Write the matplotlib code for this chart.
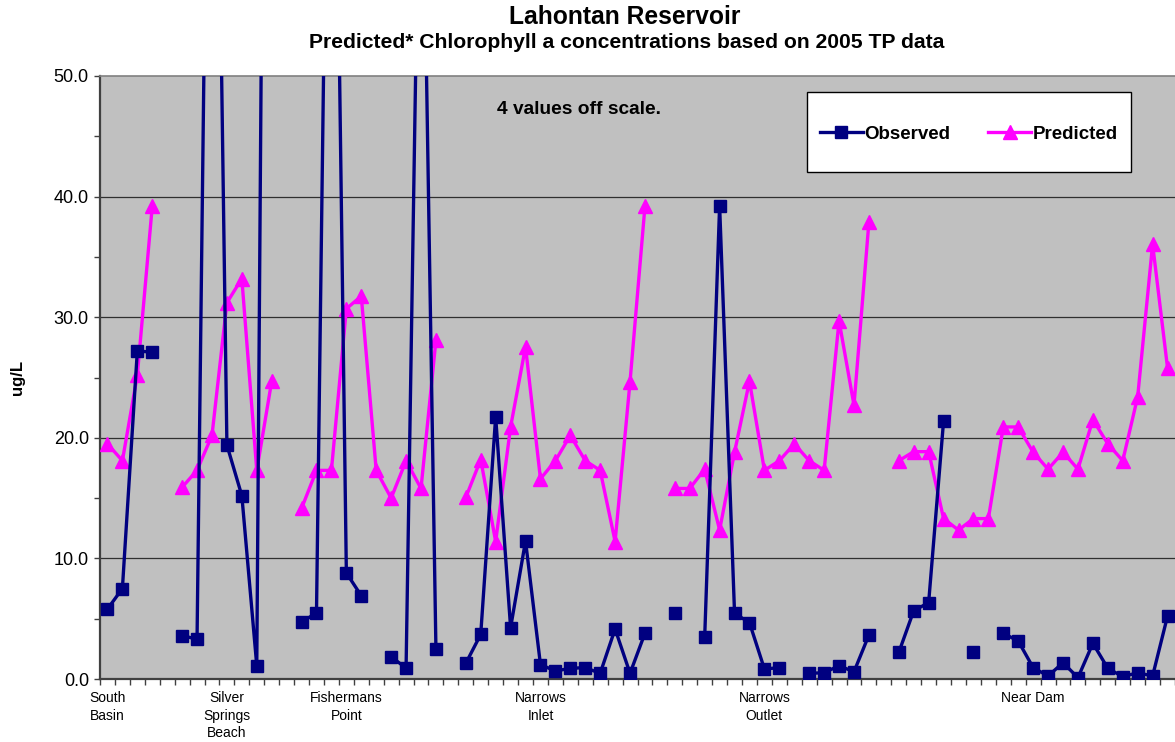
import numpy as np
import matplotlib
matplotlib.use("Agg")
import matplotlib.pyplot as plt
from matplotlib.patches import Rectangle
from matplotlib.lines import Line2D

plt.rcParams['font.family'] = ['Liberation Sans', 'DejaVu Sans']

nan = np.nan
observed = [5.8, 7.5, 27.2, 27.1, nan, 3.6, 3.3, 106, 19.4, 15.2, 1.1, 170, nan,
            4.7, 5.5, 100, 8.8, 6.9, nan, 1.85, 0.9, 78, 2.45, nan,
            1.3, 3.7, 21.75, 4.25, 11.45, 1.2, 0.66, 0.89, 0.94, 0.47, 4.15, 0.47, 3.8, nan,
            5.45, nan, 3.46, 39.25, 5.45, 4.67, 0.83, 0.94, nan, 0.47, 0.52, 1.1, 0.6, 3.65, nan,
            2.2, 5.66, 6.33, 21.4, nan, 2.26, nan, 3.79, 3.15, 0.94, 0.25, 1.35, 0.11, 2.96,
            0.89, 0.19, 0.52, 0.25, 5.22]
predicted = [19.5, 18.1, 25.2, 39.2, nan, 15.9, 17.3, 20.2, 31.2, 33.2, 17.3, 24.7, nan,
             14.15, 17.3, 17.3, 30.7, 31.75, 17.3, 15.0, 18.1, 15.8, 28.1, nan,
             15.05, 18.2, 11.4, 20.9, 27.55, 16.6, 18.1, 20.2, 18.1, 17.3, 11.4, 24.65, 39.2, nan,
             15.8, 15.8, 17.4, 12.35, 18.8, 24.7, 17.3, 18.1, 19.5, 18.1, 17.3, 29.7, 22.7, 37.9, nan,
             18.1, 18.85, 18.85, 13.3, 12.35, 13.3, 13.3, 20.9, 20.9, 18.8, 17.4, 18.8, 17.4, 21.5,
             19.5, 18.1, 23.4, 36.05, 25.8]
site_labels = ["South\nBasin", "Silver\nSprings\nBeach", "Fishermans\nPoint",
               "Narrows\nInlet", "Narrows\nOutlet", "Near Dam"]
site_positions = [0, 8, 16, 29, 44, 62]
y_ticks = [0, 10, 20, 30, 40, 50]

W, H = 1175, 742
fig = plt.figure(figsize=(W / 100, H / 100), dpi=100)
L, R, T, B = 100, 1175, 76, 679
ax = fig.add_axes([L / W, 1 - B / H, (R - L) / W, (B - T) / H])
ax.set_facecolor('#C0C0C0')

x = np.arange(len(observed))
navy = '#000080'
mag = '#FF00FF'
ax.plot(x, observed, color=navy, lw=2.4, marker='s', ms=8.5, mfc=navy, mec=navy,
        label='Observed', zorder=4)
ax.plot(x, predicted, color=mag, lw=2.4, marker='^', ms=9.5, mfc=mag, mec=mag,
        label='Predicted', zorder=3)

ax.set_xlim(-0.48, 71.4)
ax.set_ylim(0, 50)

# y axis
ax.set_yticks(y_ticks)
ax.set_yticklabels([f"{v:.1f}" for v in y_ticks], fontsize=13)
ax.set_yticks([5, 15, 25, 35, 45], minor=True)
for v in y_ticks[1:-1]:
    ax.axhline(v, color='#303030', lw=0.9, zorder=1)

# x axis: ticks at category boundaries, labels at chosen categories
ax.set_xticks(np.arange(-0.5, 72, 1.0))
ax.set_xticklabels([])
ax.set_xticks(site_positions, minor=True)
ax.set_xticklabels(site_labels, minor=True, fontsize=10, va='top', linespacing=1.3)
ax.tick_params(axis='x', which='minor', length=0, pad=9)
ax.tick_params(axis='x', which='major', length=4, width=1, color='#404040', direction='out')
ax.tick_params(axis='y', which='both', length=4, width=1, color='#404040', direction='out', pad=4)

for s in ['left', 'bottom']:
    ax.spines[s].set_color('#404040')
    ax.spines[s].set_linewidth(1.6)
ax.spines['top'].set_color('#808080')
ax.spines['top'].set_linewidth(1.2)
ax.spines['right'].set_visible(False)

fig.text(18 / W, 1 - 377 / H, 'ug/L', rotation=90, fontsize=12, fontweight='bold',
         ha='center', va='center')

fig.text(625 / W, 1 - 17 / H, 'Lahontan Reservoir', fontsize=17.7,
         fontweight='bold', ha='center', va='center')
fig.text(627 / W, 1 - 42 / H, 'Predicted* Chlorophyll a concentrations based on 2005 TP data',
         fontsize=15.2, fontweight='bold', ha='center', va='center')

fig.text(579 / W, 1 - 110 / H, '4 values off scale.', fontsize=13.8, fontweight='bold',
         ha='center', va='center')

# legend box
bx0, by0, bx1, by1 = 807, 92, 1131, 172
fig.patches.append(Rectangle((bx0 / W, 1 - by1 / H), (bx1 - bx0) / W, (by1 - by0) / H,
                             transform=fig.transFigure, facecolor='white',
                             edgecolor='black', lw=1.0, zorder=5))
handles = [Line2D([], [], color=navy, lw=2.4, marker='s', ms=8.5),
           Line2D([], [], color=mag, lw=2.4, marker='^', ms=9.5)]
leg = fig.legend(handles, ['Observed', 'Predicted'], loc='center',
                 bbox_to_anchor=((bx0 + bx1) / 2 / W, 1 - (by0 + by1 + 4) / 2 / H),
                 ncol=2, frameon=False, prop={'weight': 'bold', 'size': 13.5},
                 handlelength=2.3, handletextpad=0.1, columnspacing=2.0)
leg.set_zorder(6)

fig.savefig('out.png', dpi=100)
